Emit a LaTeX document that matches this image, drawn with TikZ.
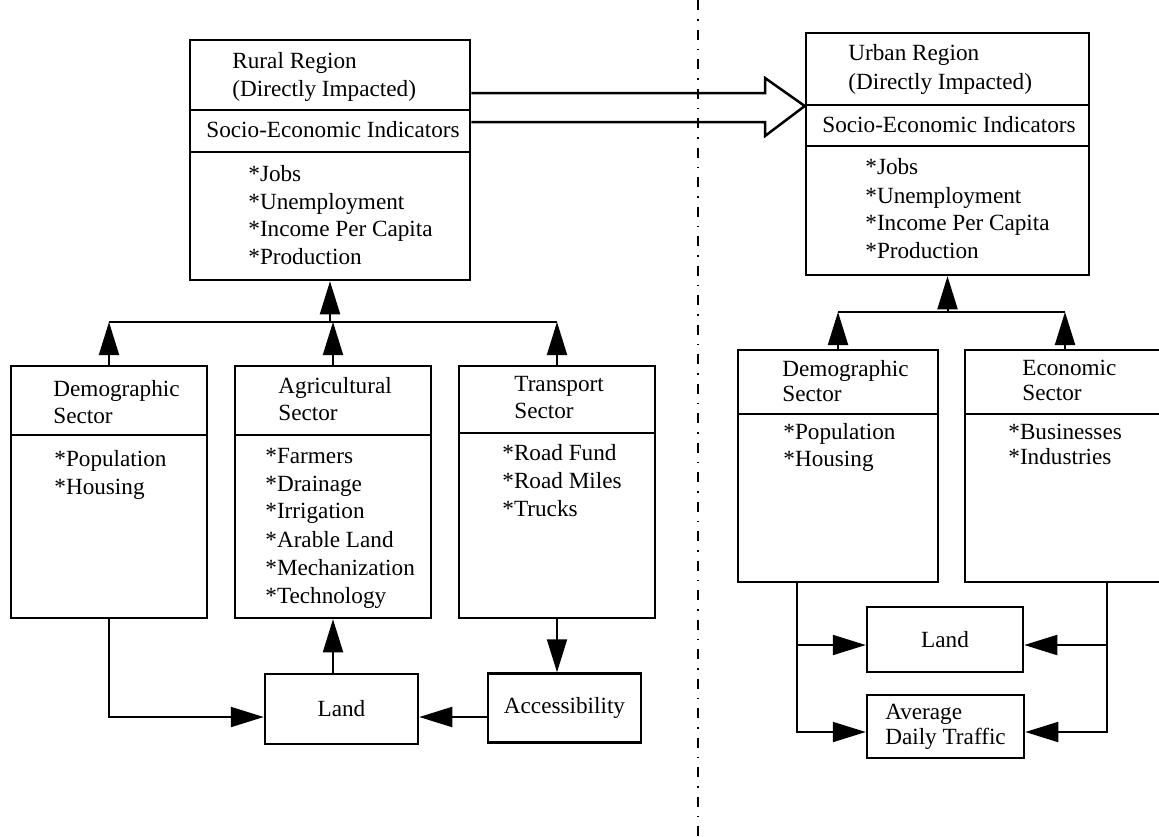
\documentclass[tikz,border=0pt]{standalone}
\usepackage{fontspec}
\setmainfont{Liberation Serif}
\usetikzlibrary{arrows.meta,fit}
\begin{document}
\begin{tikzpicture}[x=0.5pt,y=-0.5pt,
  every node/.style={font=\fontsize{11.6}{14}\selectfont, inner sep=0pt},
  box/.style={draw, line width=1.25pt},
  txt/.style={anchor=base west},
  divider/.style={line width=1.25pt},
  wire/.style={line width=1pt},
  arr/.style={line width=1pt, -{Triangle[length=16.5pt,width=10pt]}},
  hollow/.style={line width=1.25pt, line join=miter},
  regionline/.style={line width=0.6pt, dash pattern=on 5pt off 4.5pt on 0.75pt off 4.5pt}]
\useasboundingbox (0,0) rectangle (1159,836);
\fill[white] (0,0) rectangle (1159,836);
\begin{scope}
\clip (0,0) rectangle (1159,836);

% boundary between the two regions
\draw[regionline] (698,0) -- (698,836);

% ---------- rural region ----------
\node[box, fit={(190,40) (470,280)}] (rural) {};
\draw[divider] (rural.west |- 0,110) -- (rural.east |- 0,110);
\draw[divider] (rural.west |- 0,152) -- (rural.east |- 0,152);
\node[txt] (ruralT1) at (232,68) {Rural Region};
\node[txt] (ruralT2) at (232,96) {(Directly Impacted)};
\node[txt] (ruralSE) at (206,137) {Socio-Economic Indicators};
\node[txt] (ruralI1) at (248,181) {*Jobs};
\node[txt] (ruralI2) at (248,209) {*Unemployment};
\node[txt] (ruralI3) at (248,236) {*Income Per Capita};
\node[txt] (ruralI4) at (248,264) {*Production};

% rural sectors
\node[box, fit={(11,366) (207,618)}] (rdem) {};
\draw[divider] (rdem.west |- 0,435) -- (rdem.east |- 0,435);
\node[txt] (rdemT1) at (53,396) {Demographic};
\node[txt] (rdemT2) at (53,423) {Sector};
\node[txt] (rdemI1) at (54,466) {*Population};
\node[txt] (rdemI2) at (54,494) {*Housing};

\node[box, fit={(235,366) (431,618)}] (ragr) {};
\draw[divider] (ragr.west |- 0,435) -- (ragr.east |- 0,435);
\node[txt] (ragrT1) at (278,393) {Agricultural};
\node[txt] (ragrT2) at (278,420) {Sector};
\node[txt] (ragrI1) at (265,463) {*Farmers};
\node[txt] (ragrI2) at (265,491) {*Drainage};
\node[txt] (ragrI3) at (265,518) {*Irrigation};
\node[txt] (ragrI4) at (265,547) {*Arable Land};
\node[txt] (ragrI5) at (265,575) {*Mechanization};
\node[txt] (ragrI6) at (265,603) {*Technology};

\node[box, fit={(459,366) (655,618)}] (rtra) {};
\draw[divider] (rtra.west |- 0,433) -- (rtra.east |- 0,433);
\node[txt] (rtraT1) at (514,391) {Transport};
\node[txt] (rtraT2) at (514,418) {Sector};
\node[txt] (rtraI1) at (502,460) {*Road Fund};
\node[txt] (rtraI2) at (502,488) {*Road Miles};
\node[txt] (rtraI3) at (502,516) {*Trucks};

\node[box, minimum width=76.5pt, minimum height=35pt] (rland) at (341.5,709) {Land};
\node[box, minimum width=76.5pt, minimum height=34.5pt] (racc) at (564.5,708) {Accessibility};

% rural connectors
\coordinate (rbus) at (ragr.north |- 0,322);
\draw[wire] (rdem.north |- rbus) -- (rtra.north |- rbus);
\draw[arr] (rdem.north) -- (rdem.north |- rbus);
\draw[arr] (ragr.north) -- (rbus);
\draw[arr] (rtra.north) -- (rtra.north |- rbus);
\draw[arr] (rural.south |- rbus) -- (rural.south);
\path ([yshift=-4pt]rland.west) coordinate (rlw)
      ([yshift=-4pt]rland.east) coordinate (rle);
\draw[arr] (rdem.south) |- (rlw);
\draw[arr] (racc.west |- rle) -- (rle);
\draw[arr] (ragr.south |- rland.north) -- (ragr.south);
\draw[arr] (rtra.south) -- (rtra.south |- racc.north);

% ---------- urban region ----------
\node[box, fit={(806,33) (1089,275)}] (urban) {};
\draw[divider] (urban.west |- 0,105) -- (urban.east |- 0,105);
\draw[divider] (urban.west |- 0,146) -- (urban.east |- 0,146);
\node[txt] (urbanT1) at (848,60) {Urban Region};
\node[txt] (urbanT2) at (848,89) {(Directly Impacted)};
\node[txt] (urbanSE) at (822,132) {Socio-Economic Indicators};
\node[txt] (urbanI1) at (865,174) {*Jobs};
\node[txt] (urbanI2) at (865,203) {*Unemployment};
\node[txt] (urbanI3) at (865,230) {*Income Per Capita};
\node[txt] (urbanI4) at (865,258) {*Production};

% flow from the rural to the urban region
\draw[hollow] (rural.east |- 0,93) -- (765,93) -- (765,78) -- (urban.west |- 0,106)
  -- (765,136) -- (765,122) -- (rural.east |- 0,122);

% urban sectors
\node[box, fit={(738,350) (938,582)}] (udem) {};
\draw[divider] (udem.west |- 0,414) -- (udem.east |- 0,414);
\node[txt] (udemT1) at (782,376) {Demographic};
\node[txt] (udemT2) at (782,401) {Sector};
\node[txt] (udemI1) at (783,439) {*Population};
\node[txt] (udemI2) at (783,466) {*Housing};

\node[box, fit={(965,350) (1165,582)}] (uecon) {};
\draw[divider] (uecon.west |- 0,414) -- (uecon.east |- 0,414);
\node[txt] (uecoT1) at (1022,375) {Economic};
\node[txt] (uecoT2) at (1022,400) {Sector};
\node[txt] (uecoI1) at (1008,439) {*Businesses};
\node[txt] (uecoI2) at (1008,464) {*Industries};

\node[box, minimum width=78pt, minimum height=32.5pt] (uland) at (945,639.5) {Land};
\node[box, minimum width=78.5pt, minimum height=31.5pt, align=left] (uavg) at (945.5,726.5)
  {Average\\[-1.5pt]Daily Traffic};

% urban connectors
\coordinate (ubus) at (urban.south |- 0,312);
\draw[wire] (udem.north |- ubus) -- (uecon.north |- ubus);
\draw[arr] (udem.north) -- (udem.north |- ubus);
\draw[arr] (uecon.north) -- (uecon.north |- ubus);
\draw[arr] (ubus) -- (urban.south);

\coordinate (udl) at (797,582);
\coordinate (uer) at (1107,582);
\path ([yshift=-2.75pt]uland.west) coordinate (ulw)
      ([yshift=-2.75pt]uland.east) coordinate (ule)
      ([yshift=-2.75pt]uavg.west) coordinate (uaw)
      ([yshift=-2.75pt]uavg.east) coordinate (uae);
\draw[arr] (udl) |- (uaw);
\draw[arr] (udl |- ulw) -- (ulw);
\draw[arr] (uer) |- (uae);
\draw[arr] (uer |- ule) -- (ule);
\end{scope}
\end{tikzpicture}
\end{document}
